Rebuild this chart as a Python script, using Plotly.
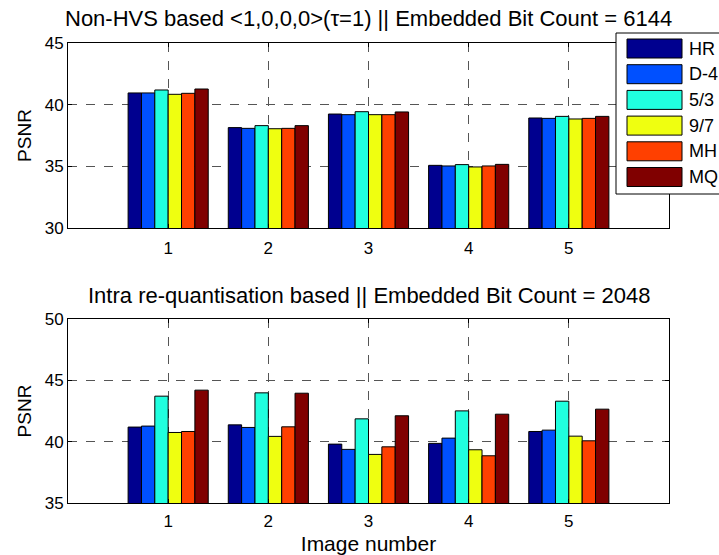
import plotly.graph_objects as go

images = [1, 2, 3, 4, 5]
series = ["HR", "D-4", "5/3", "9/7", "MH", "MQ"]
colors = ["#00008F", "#0050FF", "#20FFDF", "#EFFF10", "#FF4000", "#800000"]

top_vals = {
    "HR":  [40.95, 38.14, 39.24, 35.08, 38.92],
    "D-4": [40.95, 38.08, 39.19, 35.03, 38.89],
    "5/3": [41.19, 38.30, 39.43, 35.14, 39.05],
    "9/7": [40.84, 38.05, 39.19, 34.95, 38.84],
    "MH":  [40.92, 38.08, 39.19, 35.03, 38.89],
    "MQ":  [41.27, 38.30, 39.41, 35.16, 39.05],
}
bot_vals = {
    "HR":  [41.19, 41.37, 39.80, 39.86, 40.83],
    "D-4": [41.27, 41.16, 39.37, 40.29, 40.94],
    "5/3": [43.71, 43.98, 41.86, 42.51, 43.30],
    "9/7": [40.75, 40.43, 38.96, 39.34, 40.45],
    "MH":  [40.83, 41.21, 39.58, 38.85, 40.07],
    "MQ":  [44.20, 43.95, 42.11, 42.24, 42.65],
}

top_title = "Non-HVS based <1,0,0,0>(\u03c4=1) || Embedded Bit Count = 6144"
bot_title = "Intra re-quantisation based || Embedded Bit Count = 2048"

W, H = 719, 555
FONT = "Arial, Liberation Sans, sans-serif"

def px(x):
    return x / W

def py(y):
    return 1 - y / H

fig = go.Figure()
for name, col in zip(series, colors):
    fig.add_trace(go.Bar(x=images, y=top_vals[name], name=name, marker_color=col,
                         marker_line=dict(color="black", width=1),
                         xaxis="x", yaxis="y", showlegend=False))
    fig.add_trace(go.Bar(x=images, y=bot_vals[name], name=name, marker_color=col,
                         marker_line=dict(color="black", width=1),
                         xaxis="x2", yaxis="y2", showlegend=False))

xd = [px(68), px(669)]
axis_common = dict(showline=True, linecolor="black", linewidth=1, mirror="ticks",
                   ticks="inside", ticklen=4, tickcolor="black", automargin=False,
                   showgrid=True, gridcolor="#555555", griddash="dash", gridwidth=1,
                   zeroline=False, tickfont=dict(family=FONT, size=17, color="black"))

fig.update_layout(
    width=W, height=H, margin=dict(l=0, r=0, t=0, b=0, autoexpand=False),
    paper_bgcolor="white", plot_bgcolor="white",
    barmode="group", bargap=0.2, bargroupgap=0,
    font=dict(family=FONT, color="black"),
    xaxis=dict(domain=xd, range=[0, 6], tickvals=images, anchor="y",
               ticklabelstandoff=5, **axis_common),
    yaxis=dict(domain=[py(228), py(43)], range=[30, 45], tickvals=[30, 35, 40, 45],
               anchor="x", title=dict(text="PSNR", font=dict(family=FONT, size=19), standoff=8),
               **axis_common),
    xaxis2=dict(domain=xd, range=[0, 6], tickvals=images, anchor="y2", ticklabelstandoff=3,
                title=dict(text="Image number", font=dict(family=FONT, size=21), standoff=5),
                **axis_common),
    yaxis2=dict(domain=[py(503), py(319)], range=[35, 50], tickvals=[35, 40, 45, 50],
                anchor="x2", title=dict(text="PSNR", font=dict(family=FONT, size=19), standoff=8),
                **axis_common),
)

cx = (xd[0] + xd[1]) / 2
fig.add_annotation(text=top_title, x=cx, y=py(33), xref="paper", yref="paper",
                   xanchor="center", yanchor="bottom", showarrow=False,
                   font=dict(family=FONT, size=22, color="black"))
fig.add_annotation(text=bot_title, x=cx, y=py(310), xref="paper", yref="paper",
                   xanchor="center", yanchor="bottom", showarrow=False,
                   font=dict(family=FONT, size=22, color="black"))

# legend box
fig.add_shape(type="rect", xref="paper", yref="paper",
              x0=px(616), x1=px(740), y0=py(194), y1=py(33),
              fillcolor="white", line=dict(color="black", width=1), layer="above")
for i, (name, col) in enumerate(zip(series, colors)):
    y0 = 39 + i * 25.7
    fig.add_shape(type="rect", xref="paper", yref="paper",
                  x0=px(627), x1=px(682), y0=py(y0 + 19), y1=py(y0),
                  fillcolor=col, line=dict(color="black", width=1), layer="above")
    fig.add_annotation(text=name, x=px(687), y=py(y0 + 9.5), xref="paper", yref="paper",
                       xanchor="left", yanchor="middle", showarrow=False,
                       font=dict(family=FONT, size=18, color="black"))

fig.write_html("out.html")
